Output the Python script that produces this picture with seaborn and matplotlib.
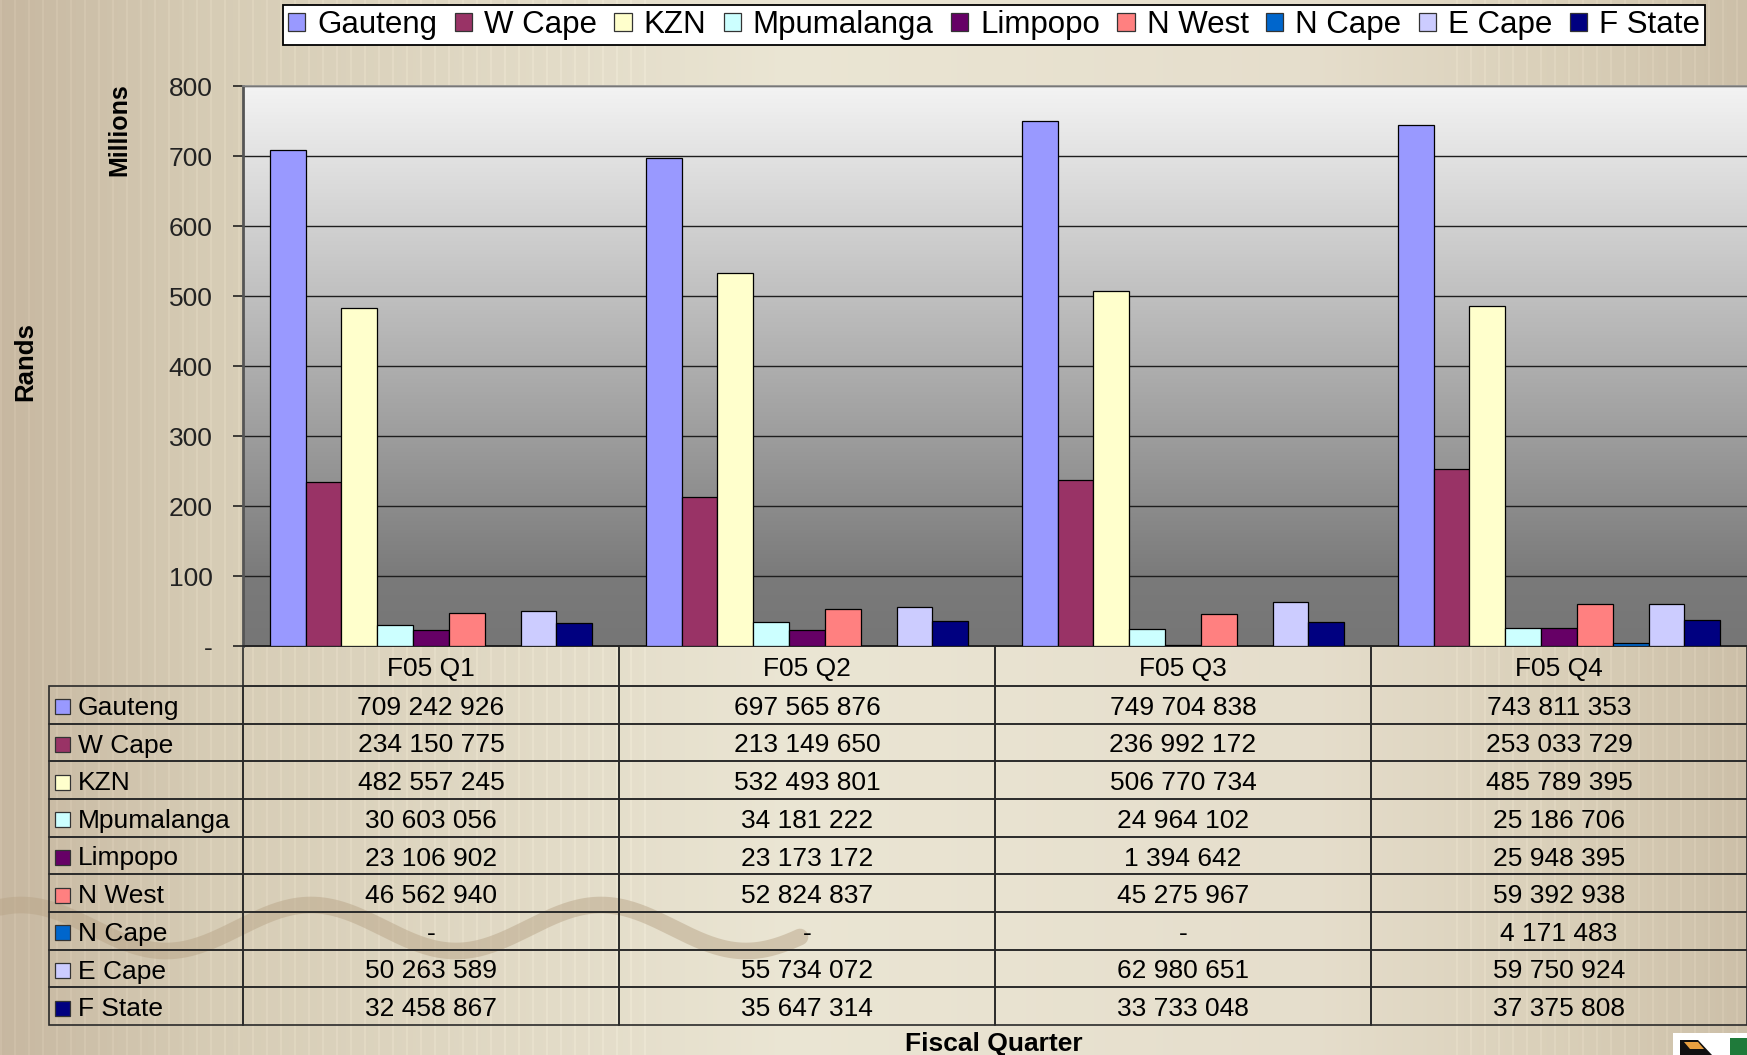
import numpy as np
import pandas as pd
import matplotlib
matplotlib.use("Agg")
import matplotlib.pyplot as plt
import matplotlib.transforms as mtransforms
import seaborn as sns
from matplotlib.table import Table
from matplotlib.patches import Rectangle, Polygon, Patch
from matplotlib.colors import LinearSegmentedColormap

# ---------------- data ----------------
quarters = ["F05 Q1", "F05 Q2", "F05 Q3", "F05 Q4"]
provinces = ["Gauteng", "W Cape", "KZN", "Mpumalanga", "Limpopo",
             "N West", "N Cape", "E Cape", "F State"]
colors = ["#9999FF", "#993366", "#FFFFCC", "#CCFFFF", "#660066",
          "#FF8080", "#0066CC", "#CCCCFF", "#000080"]

gauteng = [709242926, 697565876, 749704838, 743811353]
w_cape = [234150775, 213149650, 236992172, 253033729]
kzn = [482557245, 532493801, 506770734, 485789395]
mpumalanga = [30603056, 34181222, 24964102, 25186706]
limpopo = [23106902, 23173172, 1394642, 25948395]
n_west = [46562940, 52824837, 45275967, 59392938]
n_cape = [0, 0, 0, 4171483]
e_cape = [50263589, 55734072, 62980651, 59750924]
f_state = [32458867, 35647314, 33733048, 37375808]
series = [gauteng, w_cape, kzn, mpumalanga, limpopo, n_west, n_cape, e_cape, f_state]

y_ticks = [0, 100, 200, 300, 400, 500, 600, 700, 800]
y_tick_labels = ["-", "100", "200", "300", "400", "500", "600", "700", "800"]

rows = []
for p, vals in zip(provinces, series):
    for q, v in zip(quarters, vals):
        rows.append({"Quarter": q, "Province": p, "Rands": v, "Millions": v / 1e6})
df = pd.DataFrame(rows)


def fmt(v):
    return "-" if v == 0 else f"{v:,}".replace(",", " ")


# ---------------- figure ----------------
W, H = 1747, 1055
fig = plt.figure(figsize=(W / 100, H / 100), dpi=100)
plt.rcParams["font.family"] = ["Liberation Sans", "DejaVu Sans"]

# background (beige texture)
bg = fig.add_axes([0, 0, 1, 1], zorder=-10)
xs = np.arange(W) / (W - 1)
stops_x = [0.0, 0.12, 0.45, 0.75, 0.9, 1.0]
stops_c = np.array([[0.78, 0.72, 0.63], [0.84, 0.80, 0.71], [0.92, 0.90, 0.83],
                    [0.90, 0.87, 0.80], [0.85, 0.81, 0.72], [0.80, 0.75, 0.66]])
img = np.stack([np.interp(xs, stops_x, stops_c[:, k]) for k in range(3)], axis=-1)
px = np.arange(W)
stripe = ((px % 14) < 2) & ((px < 650) | (px > 1450))
img[stripe] = np.clip(img[stripe] + 0.025, 0, 1)
img = np.repeat(img[None, :, :], 8, axis=0)
bg.imshow(img, extent=[0, W, H, 0], aspect="auto", interpolation="bilinear")
bg.set_xlim(0, W)
bg.set_ylim(H, 0)
bg.axis("off")

# decorative wave
wx = np.linspace(0, 800, 400)
wy = 928 + 23 * np.cos(2 * np.pi * (wx - 166) / 290)
bg.plot(wx, wy, color="#b9a588", alpha=0.5, lw=12, solid_capstyle="round")

# logo (bottom right)
bg.add_patch(Rectangle((1673, 1033), 74, 22, facecolor="white", edgecolor="none"))
bg.add_patch(Polygon([(1680, 1040), (1698, 1040), (1712, 1055), (1680, 1055)],
                     facecolor="#111111", edgecolor="none"))
bg.add_patch(Polygon([(1684, 1042), (1698, 1042), (1704, 1049), (1690, 1049)],
                     facecolor="#e8a040", edgecolor="none"))
bg.add_patch(Polygon([(1730, 1038), (1747, 1038), (1747, 1055), (1730, 1055)],
                     facecolor="#1f7a3a", edgecolor="none"))

# plot area rectangle (pixel layout)
ax_l_px, ax_t_px, ax_b_px = 243, 86, 646
left = ax_l_px / W
bottom = 1 - ax_b_px / H
width = 1 - left
height = (ax_b_px - ax_t_px) / H
ax_w_px = W - ax_l_px
ax_h_px = ax_b_px - ax_t_px

gax = fig.add_axes([left, bottom, width, height], zorder=-5)
gcm = LinearSegmentedColormap.from_list("g", [(0.0, "#767676"), (0.12, "#7a7a7a"),
                                              (1.0, "#f3f3f3")])
grad = np.linspace(0, 1, 256)[:, None]
gax.imshow(grad, extent=[0, 1, 0, 1], origin="lower", aspect="auto", cmap=gcm)
gax.axis("off")

ax = fig.add_axes([left, bottom, width, height], zorder=0)
ax.set_facecolor("none")

sns.barplot(data=df, x="Quarter", y="Millions", hue="Province",
            order=quarters, hue_order=provinces, palette=colors,
            width=9 / 10.5, saturation=1, edgecolor="black", linewidth=0.9,
            errorbar=None, legend=False, ax=ax, zorder=3)

ax.set_xlim(-0.5, 3.5)
ax.set_ylim(0, 800)
ax.set_yticks(y_ticks)
ax.set_yticklabels(y_tick_labels, fontsize=19)
ax.tick_params(axis="y", direction="out", length=7, width=1.2, colors="#222222", pad=15)
ax.tick_params(axis="x", bottom=False, labelbottom=False)
ax.set_xlabel("")
ax.set_ylabel("")
ax.grid(axis="y", color="#1e1e1e", lw=1.0)
ax.grid(axis="x", visible=False)
ax.set_axisbelow(True)
ax.spines["top"].set_color("#8a8a8a")
ax.spines["top"].set_linewidth(1.2)
ax.spines["right"].set_visible(False)
ax.spines["left"].set_color("#555555")
ax.spines["left"].set_linewidth(2)
ax.spines["bottom"].set_color("#222222")
ax.spines["bottom"].set_linewidth(1.2)

# ---------------- data table (below the plot, in axes units) ----------------
tab_top, tab_bottom = 646, 1025
lab_w = (ax_l_px - 49) / ax_w_px          # row-label column
col_w = 1.0 / len(quarters)               # one column per category
head_h = 40 / ax_h_px
row_h = (tab_bottom - tab_top - 40) / 9 / ax_h_px
tot_h = head_h + 9 * row_h
tab = Table(ax, bbox=[0, -tot_h, 1, tot_h])
edge = "#2a2a2a"
for j, q in enumerate(quarters):
    c = tab.add_cell(0, j, width=col_w, height=head_h, text=q, loc="center",
                     facecolor="none", edgecolor=edge)
    c.set_linewidth(1.2)
for i, (p, vals) in enumerate(zip(provinces, series)):
    c = tab.add_cell(i + 1, -1, width=lab_w, height=row_h, text=p, loc="left",
                     facecolor="none", edgecolor=edge)
    c.PAD = 29 / (ax_l_px - 49)
    c.set_linewidth(1.2)
    for j, v in enumerate(vals):
        c = tab.add_cell(i + 1, j, width=col_w, height=row_h, text=fmt(v), loc="center",
                         facecolor="none", edgecolor=edge)
        c.set_linewidth(1.2)
tab.auto_set_font_size(False)
tab.set_fontsize(19)
shift = mtransforms.Affine2D().translate(0, -3)
for cell in tab.get_celld().values():
    cell.set_clip_on(False)
    cell.get_text().set_clip_on(False)
    cell.get_text().set_transform(shift)
tab.set_clip_on(False)
ax.add_table(tab)

# legend keys in the table label column
ov = fig.add_axes([0, 0, 1, 1], zorder=1)
ov.set_xlim(0, W)
ov.set_ylim(H, 0)
ov.axis("off")
for i, col in enumerate(colors):
    yc = tab_top + 40 + (i + 0.5) * (tab_bottom - tab_top - 40) / 9 + 2
    ov.add_patch(Rectangle((55, yc - 7.5), 15, 15, facecolor=col, edgecolor="#333333", lw=0.9))

# ---------------- titles ----------------
fig.text(119 / W, 1 - 130 / H, "Millions", rotation=90, ha="center", va="center",
         fontsize=18, fontweight="bold")
fig.text(25 / W, 1 - 362 / H, "Rands", rotation=90, ha="center", va="center",
         fontsize=18.5, fontweight="bold")
fig.text(994 / W, 1 - 1044 / H, "Fiscal Quarter", ha="center", va="center",
         fontsize=19, fontweight="bold")

# ---------------- legend ----------------
handles = [Patch(facecolor=c, edgecolor="#333333", lw=0.9) for c in colors]
leg = fig.legend(handles, provinces, loc="upper center", ncol=9,
                 bbox_to_anchor=(994 / W, 1 - 5 / H), fontsize=22.5,
                 frameon=True, fancybox=False, shadow=False,
                 handlelength=0.55, handleheight=0.55, handletextpad=0.38,
                 columnspacing=0.56, borderpad=0.16, borderaxespad=0)
leg.get_frame().set_edgecolor("black")
leg.get_frame().set_linewidth(1.3)
leg.get_frame().set_facecolor("white")
leg.get_frame().set_alpha(1)

fig.savefig("out.png", dpi=100)
